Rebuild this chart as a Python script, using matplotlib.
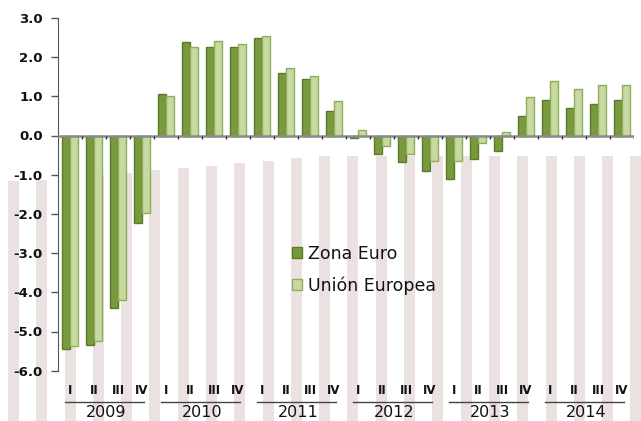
"""Crecimiento del PIB trimestral: Zona Euro vs Unión Europea, 2009-2014."""
import numpy as np
import matplotlib
matplotlib.use("Agg")
import matplotlib.pyplot as plt

YEARS = ["2009", "2010", "2011", "2012", "2013", "2014"]
QUARTERS = ["I", "II", "III", "IV"]
ZONA_EURO = [-5.45, -5.34, -4.39, -2.22, 1.05, 2.39, 2.27, 2.26, 2.50, 1.60, 1.44, 0.62,
             -0.06, -0.48, -0.68, -0.91, -1.10, -0.59, -0.39, 0.51, 0.91, 0.70, 0.80, 0.91]
UNION_EUROPEA = [-5.36, -5.23, -4.20, -1.98, 1.00, 2.27, 2.40, 2.33, 2.54, 1.73, 1.51, 0.87,
                 0.14, -0.26, -0.46, -0.65, -0.65, -0.19, 0.10, 0.99, 1.40, 1.19, 1.30, 1.30]
SERIES = ["Zona Euro", "Unión Europea"]

DARK = "#789a3c"
DARK_EDGE = "#5b7b29"
LIGHT = "#c7d9a2"
LIGHT_EDGE = "#8fae58"
STRIPE = "#ece1e1"
TEXT = "#111111"

plt.rcParams["font.family"] = ["DejaVu Sans"]

fig = plt.figure(figsize=(6.41, 4.21), dpi=100)
fig.patch.set_facecolor("white")

# decorative striped background (pixel coordinates of the figure)
bg = fig.add_axes([0, 0, 1, 1], zorder=0)
bg.set_xlim(0, 641)
bg.set_ylim(421, 0)
bg.axis("off")
for k in range(23):
    cx = 13.5 + 28.29 * k
    top = max(156, 181 - max(0, cx - 30) * 25 / 295)
    bg.add_patch(plt.Rectangle((cx - 5.5, top), 11, 421 - top, color=STRIPE, lw=0))

ax = fig.add_axes([58 / 641, 50.3 / 421, 576 / 641, 352.8 / 421], zorder=1)
ax.patch.set_alpha(0)

x = np.arange(len(ZONA_EURO))
w = 0.35
b1 = ax.bar(x - w / 2, ZONA_EURO, w, color=DARK, edgecolor=DARK_EDGE, lw=1, label=SERIES[0], zorder=3)
b2 = ax.bar(x + w / 2, UNION_EUROPEA, w, color=LIGHT, edgecolor=LIGHT_EDGE, lw=1, label=SERIES[1], zorder=3)

ax.set_xlim(-0.5, len(x) - 0.5)
ax.set_ylim(-6, 3)
ax.set_yticks(np.arange(-6, 4, 1))
ax.set_yticklabels([f"{v:.1f}" for v in np.arange(-6, 4, 1)], fontsize=9.5,
                   fontweight="bold", color=TEXT)
ax.tick_params(axis="y", length=5, width=1, color="#555555", pad=6)
ax.set_xticks([])
for s in ["top", "right", "bottom"]:
    ax.spines[s].set_visible(False)
ax.spines["left"].set_color("#555555")

ax.axhline(0, color="#8a8a8a", lw=1.8, zorder=4)
ax.vlines(np.arange(len(x)) + 0.5, -0.1, 0, color="#333333", lw=1, zorder=4)

for i in x:
    ax.text(i, -6.5, QUARTERS[i % 4], ha="center", va="center", fontsize=8.5,
            fontweight="bold", color=TEXT, clip_on=False)
for j, yr in enumerate(YEARS):
    ax.plot([4 * j - 0.5 + 0.3, 4 * j + 3.5 - 0.4], [-6.79, -6.79], color="#444444",
            lw=1, clip_on=False)
    ax.text(4 * j + 1.5, -7.06, yr, ha="center", va="center", fontsize=11.5,
            color=TEXT, clip_on=False)

leg = ax.legend(handles=[b1, b2], loc="upper left", bbox_to_anchor=(292 / 641, 1 - 245 / 421),
                bbox_transform=fig.transFigure, frameon=False, fontsize=12.5,
                handlelength=0.6, handleheight=0.6, handletextpad=0.3, labelspacing=0.75,
                borderaxespad=0, borderpad=0)
for t in leg.get_texts():
    t.set_color(TEXT)

fig.savefig("out.png", dpi=100, facecolor="white")
